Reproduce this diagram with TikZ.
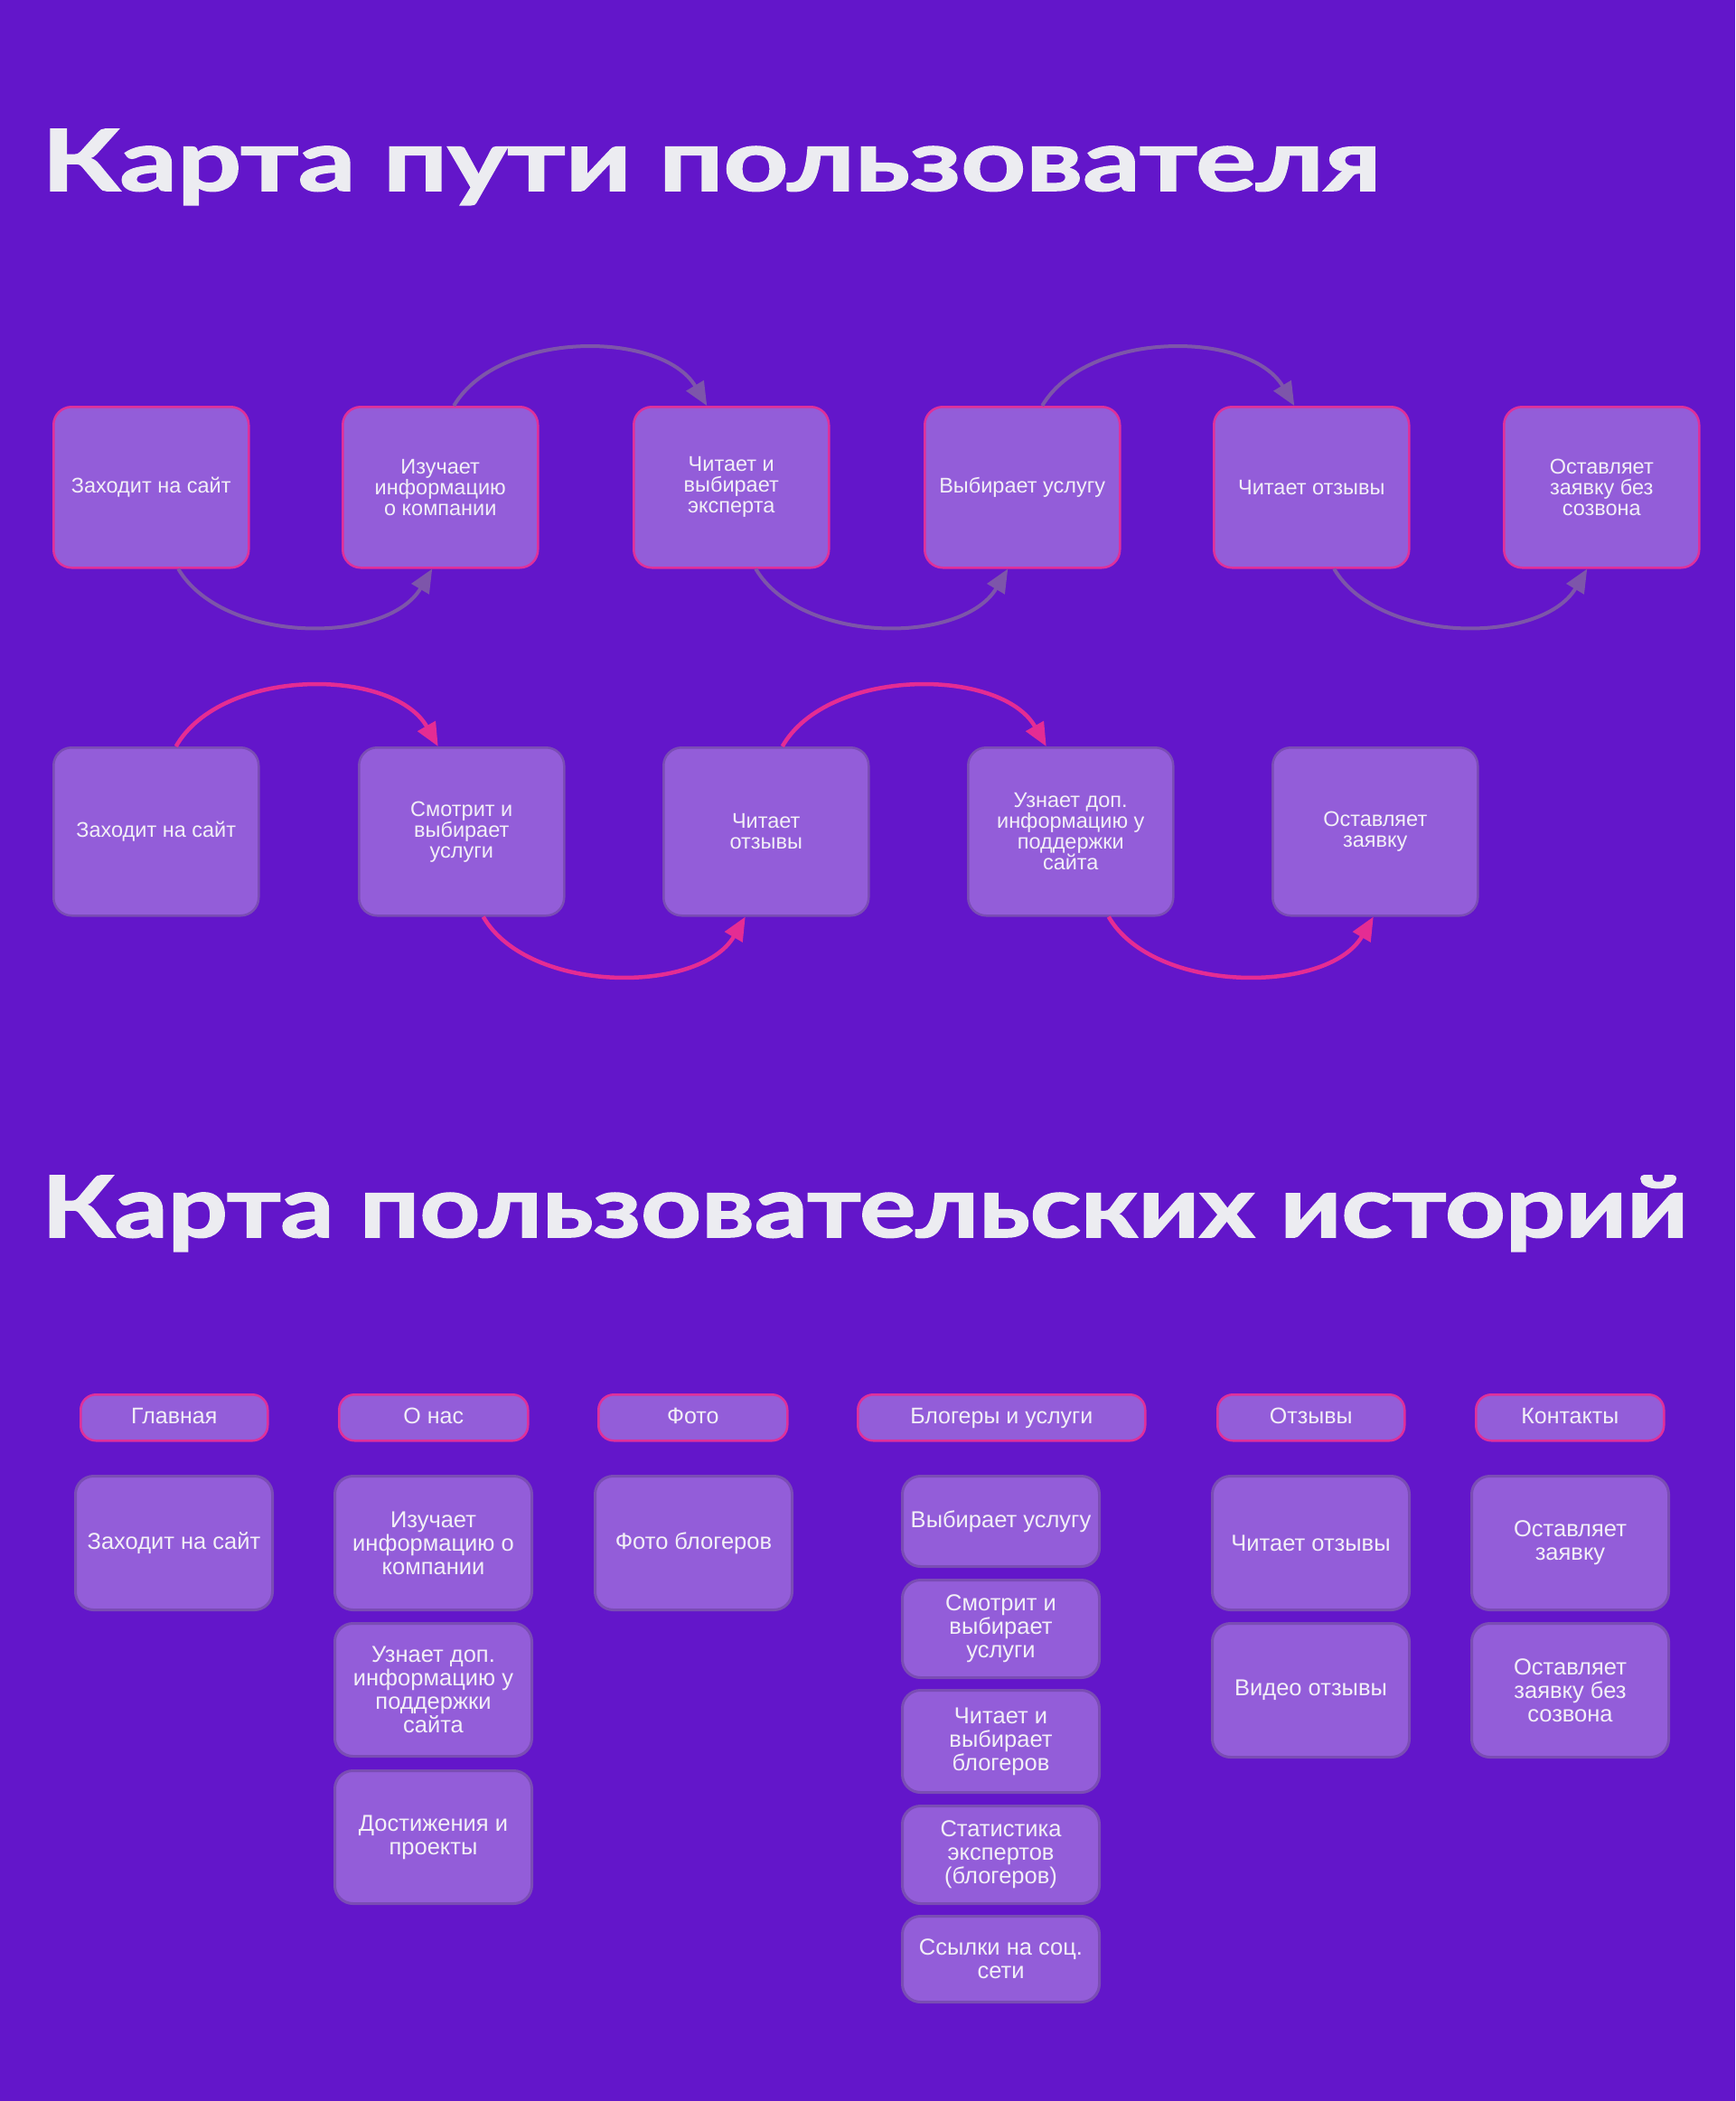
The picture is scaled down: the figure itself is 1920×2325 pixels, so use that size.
\documentclass[tikz,border=0pt]{standalone}
\usepackage{fontspec}
\setmainfont{Liberation Sans}
\newfontfamily\titlefont{Lato}[BoldFeatures={FakeBold=1.6}]
\usepackage{graphicx}
\usetikzlibrary{arrows.meta}
\definecolor{bgc}{HTML}{6316CA}
\definecolor{boxf}{HTML}{935DD9}
\definecolor{pinkb}{HTML}{E0309A}
\definecolor{cardb}{HTML}{7A4DB4}
\definecolor{arcg}{HTML}{7D55AA}
\definecolor{arcp}{HTML}{E52C93}
\definecolor{txt}{HTML}{F2EFF7}
\definecolor{titlec}{HTML}{ECECF1}
\tikzset{
  basebox/.style={fill=boxf, anchor=north west, inner sep=3pt, align=center, text=txt},
  jbox/.style={basebox, draw=pinkb, line width=2.5pt, rounded corners=20pt,
     minimum width=216pt, minimum height=178pt, font=\fontsize{23.5}{23}\selectfont},
  kbox/.style={basebox, draw=cardb, line width=2.5pt, rounded corners=20pt,
     minimum width=227pt, minimum height=186pt, font=\fontsize{23.5}{23}\selectfont},
  pill/.style={basebox, draw=pinkb, line width=2.5pt, rounded corners=17pt,
     minimum height=51pt, text height=18pt, text depth=5pt, font=\fontsize{25}{26}\selectfont},
  card/.style={basebox, draw=cardb, line width=3pt, rounded corners=20pt,
     minimum width=218pt, font=\fontsize{25.5}{26}\selectfont},
  garc/.style={draw=arcg, line width=4pt, -{Triangle[length=26pt,width=22pt]}},
  parc/.style={draw=arcp, line width=4.5pt, -{Triangle[length=26pt,width=22pt]}},
  ttl/.style={anchor=base west, inner sep=0pt, text=titlec}
}
\begin{document}
\begin{tikzpicture}[x=1pt,y=-1pt]
\fill[bgc] (0,0) rectangle (1920,2325);
\useasboundingbox (0,0) rectangle (1920,2325);

% titles
\node[ttl] (t1) at (46,211) {\resizebox{1481pt}{68pt}{\titlefont\bfseries\smash{Карта пути пользователя}\vphantom{К}}};
\node[ttl] (t2) at (46,1369) {\resizebox{1821pt}{68pt}{\titlefont\bfseries\smash{Карта пользовательских историй}\vphantom{К}}};

% row 1
\node[jbox] (r1a) at (58,449) {Заходит на сайт};
\node[jbox] (r1b) at (378,449) {Изучает\\информацию\\о компании};
\node[jbox] (r1c) at (700,449) {Читает и\\выбирает\\эксперта};
\node[jbox] (r1d) at (1022,449) {Выбирает услугу};
\node[jbox] (r1e) at (1342,449) {Читает отзывы};
\node[jbox] (r1f) at (1663,449) {Оставляет\\заявку без\\созвона};

\draw[garc] ([xshift=30pt]r1a.south) .. controls +(50,84) and +(-50,84) .. ([xshift=-9pt]r1b.south);
\draw[garc] ([xshift=15pt]r1b.north) .. controls +(50,-84) and +(-50,-84) .. ([xshift=-27pt]r1c.north);
\draw[garc] ([xshift=27pt]r1c.south) .. controls +(50,84) and +(-50,84) .. ([xshift=-16pt]r1d.south);
\draw[garc] ([xshift=22pt]r1d.north) .. controls +(50,-84) and +(-50,-84) .. ([xshift=-19pt]r1e.north);
\draw[garc] ([xshift=25pt]r1e.south) .. controls +(50,84) and +(-50,84) .. ([xshift=-16pt]r1f.south);

% row 2
\node[kbox] (r2a) at (58,826) {Заходит на сайт};
\node[kbox] (r2b) at (396,826) {Смотрит и\\выбирает\\услуги};
\node[kbox] (r2c) at (733,826) {Читает\\отзывы};
\node[kbox] (r2d) at (1070,826) {Узнает доп.\\информацию у\\поддержки\\сайта};
\node[kbox] (r2e) at (1407,826) {Оставляет\\заявку};

\draw[parc] ([xshift=22pt]r2a.north) .. controls +(50,-88) and +(-50,-88) .. ([xshift=-26pt]r2b.north);
\draw[parc] ([xshift=24pt]r2b.south) .. controls +(50,86) and +(-50,86) .. ([xshift=-23pt]r2c.south);
\draw[parc] ([xshift=18pt]r2c.north) .. controls +(50,-88) and +(-50,-88) .. ([xshift=-27pt]r2d.north);
\draw[parc] ([xshift=42pt]r2d.south) .. controls +(50,86) and +(-50,86) .. ([xshift=-2pt]r2e.south);

% story map headers
\node[pill, minimum width=207pt] (p1) at (88,1542) {Главная};
\node[pill, minimum width=209pt] (p2) at (374,1542) {О нас};
\node[pill, minimum width=209pt] (p3) at (661,1542) {Фото};
\node[pill, minimum width=318pt] (p4) at (948,1542) {Блогеры и услуги};
\node[pill, minimum width=207pt] (p5) at (1346,1542) {Отзывы};
\node[pill, minimum width=208pt] (p6) at (1632,1542) {Контакты};

% column 1
\node[card, minimum height=148pt] (c1a) at (82,1632) {Заходит на сайт};
% column 2
\node[card, minimum height=148pt] (c2a) at (369,1632) {Изучает\\информацию о\\компании};
\node[card, minimum height=147pt] (c2b) at (369,1795) {Узнает доп.\\информацию у\\поддержки\\сайта};
\node[card, minimum height=147pt] (c2c) at (369,1958) {Достижения и\\проекты};
% column 3
\node[card, minimum height=148pt] (c3a) at (657,1632) {Фото блогеров};
% column 4
\node[card, minimum height=100pt] (c4a) at (997,1632) {Выбирает услугу};
\node[card, minimum height=108pt] (c4b) at (997,1747) {Смотрит и\\выбирает\\услуги};
\node[card, minimum height=113pt] (c4c) at (997,1869) {Читает и\\выбирает\\блогеров};
\node[card, minimum height=108pt] (c4d) at (997,1997) {Статистика\\экспертов\\(блогеров)};
\node[card, minimum height=95pt] (c4e) at (997,2119) {Ссылки на соц.\\сети};
% column 5
\node[card, minimum height=148pt] (c5a) at (1340,1632) {Читает отзывы};
\node[card, minimum height=148pt] (c5b) at (1340,1795) {Видео отзывы};
% column 6
\node[card, minimum height=148pt] (c6a) at (1627,1632) {Оставляет\\заявку};
\node[card, minimum height=148pt] (c6b) at (1627,1795) {Оставляет\\заявку без\\созвона};
\end{tikzpicture}
\end{document}
